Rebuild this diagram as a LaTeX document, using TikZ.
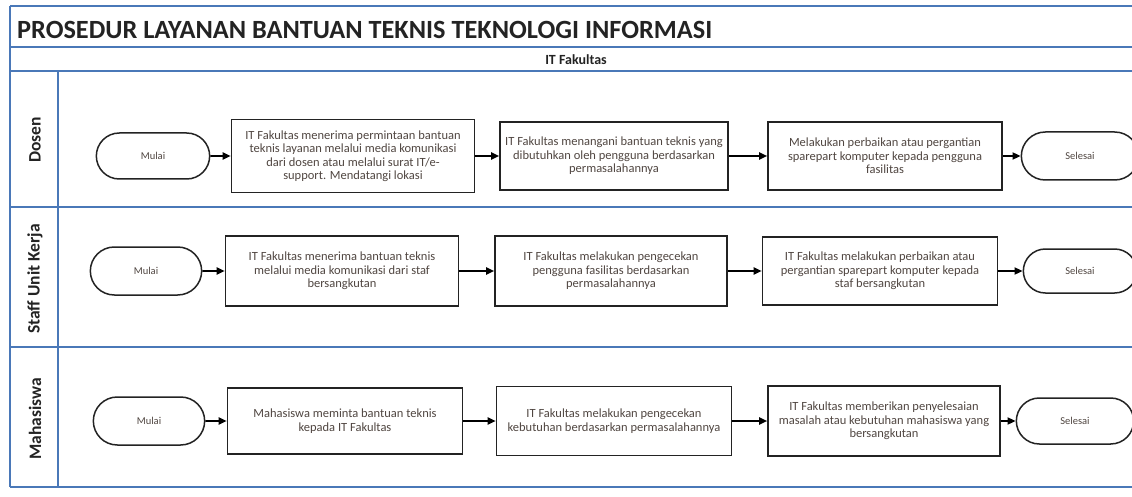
\documentclass[tikz,border=0pt]{standalone}
\usepackage{fontspec}
\setmainfont{Carlito}
\usetikzlibrary{arrows.meta,shapes.misc}
\definecolor{laneblue}{RGB}{74,120,184}
\definecolor{ink}{RGB}{35,35,35}
\definecolor{tasktext}{RGB}{80,70,65}
\tikzset{
  laneline/.style={draw=laneblue, line width=1.6pt},
  task/.style={draw=ink, line width=1.6pt, fill=white, rectangle, align=center,
    inner sep=2pt, text=tasktext, font=\fontsize{12.5}{13.5}\selectfont},
  term/.style={draw=ink, line width=1.5pt, rounded rectangle, fill=white,
    text=tasktext, font=\fontsize{10.5}{12}\selectfont},
  flow/.style={draw=black, line width=1.8pt, -{Triangle[length=8pt,width=7pt]}},
  lanelabel/.style={rotate=90, font=\bfseries\fontsize{17.5}{20}\selectfont, text=ink},
}
\begin{document}
\begin{tikzpicture}[x=1pt,y=-1pt]
\useasboundingbox (0,0) rectangle (1132,497);
\clip (0,0) rectangle (1132,497);

% pool frame and lanes
\draw[laneline] (10,6) -- (1140,6);
\draw[laneline] (10,47) -- (1140,47);
\draw[laneline] (10,71) -- (1140,71);
\draw[laneline] (10,207) -- (1140,207);
\draw[laneline] (10,347) -- (1140,347);
\draw[laneline] (10,487) -- (1140,487);
\draw[laneline] (10,6) -- (10,487);
\draw[laneline] (58,71) -- (58,487);

% headings
\node[anchor=base west, font=\bfseries\fontsize{26.3}{30}\selectfont, text=ink, inner sep=0pt]
  (title) at (17,38.5) {PROSEDUR LAYANAN BANTUAN TEKNIS TEKNOLOGI INFORMASI};
\node[font=\bfseries\fontsize{14}{16}\selectfont, text=ink, inner sep=0pt]
  (pool) at (576,60) {IT Fakultas};
\node[lanelabel] (lDosen) at (35,140) {Dosen};
\node[lanelabel] (lStaff) at (35,279) {Staff Unit Kerja};
\node[lanelabel] (lMhs) at (35,419) {Mahasiswa};

% Dosen lane
\node[term, minimum width=120pt, minimum height=46pt] (d0) at (153,156) {Mulai};
\node[task, minimum width=243pt, minimum height=73pt] (d1) at (353,156)
  {IT Fakultas menerima permintaan bantuan\\teknis layanan melalui media komunikasi\\dari dosen atau melalui surat IT/e-\\support. Mendatangi lokasi};
\node[task, minimum width=228pt, minimum height=68pt] (d2) at (614,156)
  {IT Fakultas menangani bantuan teknis yang\\dibutuhkan oleh pengguna berdasarkan\\permasalahannya};
\node[task, minimum width=234pt, minimum height=68pt] (d3) at (885,156)
  {Melakukan perbaikan atau pergantian\\sparepart komputer kepada pengguna\\fasilitas};
\node[term, minimum width=124pt, minimum height=48pt] (d4) at (1080,156) {Selesai};
\draw[flow] (d0) -- (d1);
\draw[flow] (d1) -- (d2);
\draw[flow] (d2) -- (d3);
\draw[flow] (d3) -- (d4);

% Staff Unit Kerja lane
\node[term, minimum width=118pt, minimum height=48pt] (s0) at (146,271) {Mulai};
\node[task, minimum width=233pt, minimum height=70pt] (s1) at (342,271)
  {IT Fakultas menerima bantuan teknis\\melalui media komunikasi dari staf\\bersangkutan};
\node[task, minimum width=232pt, minimum height=70pt] (s2) at (611,271)
  {IT Fakultas melakukan pengecekan\\pengguna fasilitas berdasarkan\\permasalahannya};
\node[task, minimum width=235pt, minimum height=68pt] (s3) at (880,271)
  {IT Fakultas melakukan perbaikan atau\\pergantian sparepart komputer kepada\\staf bersangkutan};
\node[term, minimum width=120pt, minimum height=44pt] (s4) at (1080,271) {Selesai};
\draw[flow] (s0) -- (s1);
\draw[flow] (s1) -- (s2);
\draw[flow] (s2) -- (s3);
\draw[flow] (s3) -- (s4);

% Mahasiswa lane
\node[term, minimum width=118pt, minimum height=48pt] (m0) at (149,421) {Mulai};
\node[task, minimum width=235pt, minimum height=66pt] (m1) at (345,421)
  {Mahasiswa meminta bantuan teknis\\kepada IT Fakultas};
\node[task, minimum width=235pt, minimum height=69pt] (m2) at (614,421)
  {IT Fakultas melakukan pengecekan\\kebutuhan berdasarkan permasalahannya};
\node[task, minimum width=232pt, minimum height=70pt] (m3) at (884,421)
  {IT Fakultas memberikan penyelesaian\\masalah atau kebutuhan mahasiswa yang\\bersangkutan};
\node[term, minimum width=124pt, minimum height=46pt] (m4) at (1075,421) {Selesai};
\draw[flow] (m0) -- (m1);
\draw[flow] (m1) -- (m2);
\draw[flow] (m2) -- (m3);
\draw[flow] (m3) -- (m4);
\end{tikzpicture}
\end{document}
